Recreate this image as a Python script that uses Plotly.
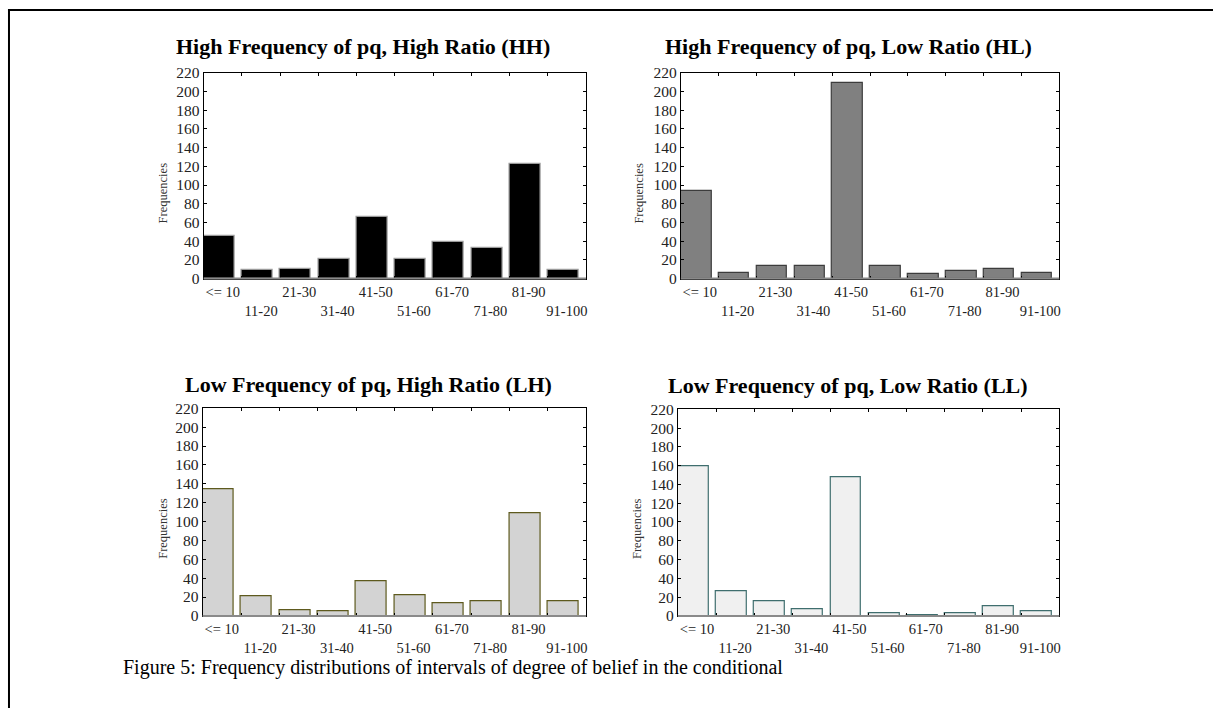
import plotly.graph_objects as go

# ---------------- data ----------------
categories = ["<= 10", "11-20", "21-30", "31-40", "41-50",
              "51-60", "61-70", "71-80", "81-90", "91-100"]
hh_values = [46, 9, 10, 21, 66, 21, 39, 33, 123, 9]
hl_values = [94, 6, 14, 14, 209, 14, 5, 8, 10, 6]
lh_values = [134, 21, 6, 5, 37, 22, 13, 15, 109, 15]
ll_values = [159, 26, 16, 7, 148, 3, 1, 3, 10, 5]
panel_titles = ["High Frequency of pq, High Ratio (HH)",
                "High Frequency of pq, Low Ratio (HL)",
                "Low Frequency of pq, High Ratio (LH)",
                "Low Frequency of pq, Low Ratio (LL)"]
y_tick_values = [0, 20, 40, 60, 80, 100, 120, 140, 160, 180, 200, 220]
y_label = "Frequencies"
caption = "Figure 5: Frequency distributions of intervals of degree of belief in the conditional"

# ---------------- styling / layout ----------------
W, H = 1215, 716
FONT = "Liberation Serif"
# vertical placement correction (photo y ~= 8 + 0.978 * page y)
Y_PAD, Y_SCALE = 8.0, 0.978

def px_x(x):
    return x / W

def px_y(y):
    return 1 - ((y - Y_PAD) / Y_SCALE) / H

panels = [
    dict(vals=hh_values, fill="#000000", edge="#9a9a9a", box=(204, 587, 72, 278),
         title_xy=(364, 46), ylab_xy=(163, 192)),
    dict(vals=hl_values, fill="#808080", edge="#3c3c3c", box=(682, 1061, 72, 278),
         title_xy=(850, 46), ylab_xy=(640, 192)),
    dict(vals=lh_values, fill="#d3d3d3", edge="#5e5a1e", box=(203, 587, 408, 616),
         title_xy=(369, 384), ylab_xy=(163, 528)),
    dict(vals=ll_values, fill="#f0f0f0", edge="#3f6e6e", box=(679, 1061, 409, 616),
         title_xy=(849, 385), ylab_xy=(638, 528)),
]

tick_text = []
for i, c in enumerate(categories):
    t = c.replace("<", "&lt;")
    tick_text.append(t if i % 2 == 0 else "<br>" + t)

fig = go.Figure()
layout = dict(
    width=W, height=H,
    margin=dict(l=0, r=0, t=0, b=0),
    paper_bgcolor="white", plot_bgcolor="white",
    showlegend=False,
    bargap=0,
)
shapes = []
annotations = []

for k, p in enumerate(panels, start=1):
    sx = "" if k == 1 else str(k)
    fig.add_trace(go.Bar(
        x=categories, y=p["vals"],
        xaxis="x" + sx, yaxis="y" + sx,
        offset=-0.5, width=0.81,
        marker=dict(color=p["fill"], line=dict(color=p["edge"], width=1.2)),
    ))
    x0, x1, y0, y1 = p["box"]
    layout["xaxis" + sx] = dict(
        domain=[px_x(x0), px_x(x1)], anchor="y" + sx,
        type="category", range=[-0.5, 9.5],
        tickmode="array", tickvals=categories, ticktext=tick_text,
        tickson="boundaries", ticks="inside", ticklen=3, tickcolor="#000",
        showline=True, linecolor="#000", linewidth=1, mirror="allticks",
        showgrid=False, zeroline=False, tickangle=0,
        tickfont=dict(family=FONT, size=14.5, color="#222"),
        fixedrange=True,
    )
    layout["yaxis" + sx] = dict(
        domain=[px_y(y1), px_y(y0)], anchor="x" + sx,
        range=[0, 220], tickmode="array", tickvals=y_tick_values,
        ticks="inside", ticklen=3, tickcolor="#000",
        showline=True, linecolor="#000", linewidth=1, mirror="allticks",
        showgrid=False, zeroline=False,
        tickfont=dict(family=FONT, size=15.5, color="#222"),
        fixedrange=True,
    )
    # grey baseline
    shapes.append(dict(type="line", xref="x" + sx + " domain", yref="y" + sx + " domain",
                       x0=0, x1=1, y0=0, y1=0, line=dict(color="#8a8a8a", width=2)))
    tx, ty = p["title_xy"]
    annotations.append(dict(text="<b>" + panel_titles[k - 1] + "</b>", xref="paper", yref="paper",
                            x=px_x(tx), y=px_y(ty), xanchor="center", yanchor="middle",
                            showarrow=False, font=dict(family=FONT, size=22, color="#000")))
    lx, ly = p["ylab_xy"]
    annotations.append(dict(text=y_label, xref="paper", yref="paper",
                            x=px_x(lx), y=px_y(ly), xanchor="center", yanchor="middle",
                            textangle=-90, showarrow=False,
                            font=dict(family=FONT, size=12.5, color="#333")))

annotations.append(dict(text=caption, xref="paper", yref="paper",
                        x=px_x(121), y=px_y(668), xanchor="left", yanchor="middle",
                        showarrow=False, font=dict(family=FONT, size=20, color="#000")))

# page frame (top and left rules)
shapes.append(dict(type="line", xref="paper", yref="paper", x0=px_x(8), x1=1,
                   y0=px_y(9), y1=px_y(9), line=dict(color="#000", width=2)))
shapes.append(dict(type="line", xref="paper", yref="paper", x0=px_x(9), x1=px_x(9),
                   y0=px_y(8), y1=0, line=dict(color="#000", width=2)))

layout["shapes"] = shapes
layout["annotations"] = annotations
fig.update_layout(**layout)
fig.write_html(
    "out.html",
    config={"displayModeBar": False},
    post_script="document.body.style.margin='0';document.body.style.overflow='hidden';",
)
